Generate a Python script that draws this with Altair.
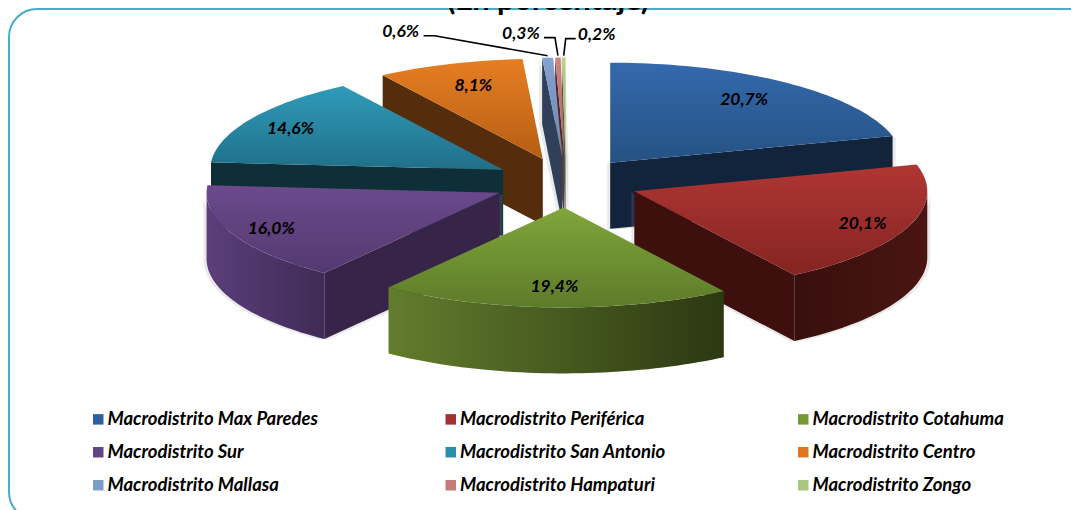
import math
import altair as alt
import pandas as pd

names = ["Macrodistrito Max Paredes", "Macrodistrito Periférica", "Macrodistrito Cotahuma",
         "Macrodistrito Sur", "Macrodistrito San Antonio", "Macrodistrito Centro",
         "Macrodistrito Mallasa", "Macrodistrito Hampaturi", "Macrodistrito Zongo"]
shares = [20.7, 20.1, 19.4, 16.0, 14.6, 8.1, 0.6, 0.3, 0.2]
labels = ["20,7%", "20,1%", "19,4%", "16,0%", "14,6%", "8,1%", "0,6%", "0,3%", "0,2%"]
top_hi = ["#3469ad", "#b03633", "#80a63b", "#6b4a8c", "#2f9bb9", "#e67e22", "#84a2d2", "#d0827f", "#b6d28a"]
top_lo = ["#265283", "#842422", "#5e7b2a", "#543971", "#206f89", "#b65e14", "#6f87ad", "#a86966", "#93aa70"]
arc_hi = ["#1a3358", "#4a1512", "#627d2d", "#5b3e7b", "#174955", "#6a3a12", "#3a4a66", "#5f3130", "#56643c"]
arc_lo = ["#11233c", "#380f0d", "#2c3812", "#3f2b55", "#0f3039", "#4a2509", "#2e3b52", "#4c2726", "#47532f"]
cut = ["#12233c", "#3d100e", "#2f3b14", "#372549", "#0f2f38", "#552d0d", "#31405a", "#4f2827", "#4a5632"]
legend_col = ["#2f5f9e", "#a33130", "#759a35", "#644585", "#2b8fac", "#dd7820", "#7f9cc9", "#c57b78", "#aac780"]
has_shadow = [True, True, False, True, False, False, True, True, True]
draw_order = [8, 7, 6, 0, 5, 4, 3, 1, 2]
# offset of the three outer labels from the rim of their slices
outer_dx = [-147, -37, 33]
outer_dy = [-26, -24, -23]
# small nudges of the labels that sit on the slices
inner_dx = [-8, 9, -2, -15, -11, 5]
inner_dy = [1, 4, 0, 3, 0, 3]

# pie geometry (chart pixels: the page margin is 8)
CX, CY = 558.0, 174.5
RX, RY = 293.0, 100.0
DEPTH = 66.0
EXPLODE = 73.0
total = sum(shares)


def pt(ax, ay, deg, f=1.0):
    r = math.radians(deg)
    return [ax + RX * f * math.sin(r), ay - RY * f * math.cos(r)]


def arc(ax, ay, a, b):
    n = max(2, int(abs(b - a) / 1.5) + 1)
    return [pt(ax, ay, a + (b - a) * i / n) for i in range(n + 1)]


def shape(ring, **props):
    return {"type": "Feature", "properties": props,
            "geometry": {"type": "Polygon", "coordinates": [ring + [ring[0]]]}}


def poly(ring, fill, **kw):
    return (alt.Chart(alt.Data(values=[shape(ring)]))
            .mark_geoshape(fill=fill, stroke=None, **kw)
            .project(type="identity", scale=1, translate=[0, 0]))


def grad(c1, c2, vertical=True):
    return alt.Gradient(gradient="linear",
                        stops=[alt.GradientStop(color=c1, offset=0), alt.GradientStop(color=c2, offset=1)],
                        x1=0, y1=0, x2=0 if vertical else 1, y2=1 if vertical else 0)


def extrude(pts):
    return pts + [[x, y + DEPTH] for x, y in reversed(pts)]


slices = []
c = 0.0
for s in shares:
    a, b = c / total * 360, (c + s) / total * 360
    m = math.radians((a + b) / 2)
    slices.append(dict(a=a, b=b, mid=(a + b) / 2,
                       ax=CX + EXPLODE * math.sin(m),
                       ay=CY - EXPLODE * RY / RX * math.cos(m)))
    c += s

layers = []

# frame
frame = pd.DataFrame({"k": [0]})
layers.append(alt.Chart(frame).mark_rect(fill="white", stroke="#4bacc6", strokeWidth=2, cornerRadius=28)
              .encode(x=alt.value(1), x2=alt.value(1092), y=alt.value(1), y2=alt.value(512)))

for i in draw_order:
    s = slices[i]
    ax, ay, a, b = s["ax"], s["ay"], s["a"], s["b"]
    walls = []
    if math.sin(math.radians(a)) < -0.01:
        walls.append((extrude([[ax, ay], pt(ax, ay, a)]), cut[i]))
    if math.sin(math.radians(b)) > 0.01:
        walls.append((extrude([[ax, ay], pt(ax, ay, b)]), cut[i]))
    lo, hi = max(a, 90), min(b, 270)
    if hi > lo:
        left_first = a + b > 360
        colours = (arc_hi[i], arc_lo[i]) if left_first else (arc_lo[i], arc_hi[i])
        walls.append((extrude(arc(ax, ay, lo, hi)), grad(colours[0], colours[1], False)))
    # soft shadow on both sides of the walls
    if has_shadow[i]:
        for ring, _ in walls:
            for dx in (-3, 3):
                layers.append(poly([[x + dx, y + 1] for x, y in ring], "#909090", opacity=0.2))
    for ring, fill in walls:
        layers.append(poly(ring, fill))
    top = [[ax, ay]] + arc(ax, ay, a, b)
    layers.append(poly(top, grad(top_hi[i], top_lo[i])))

# leader lines of the thin slices
lead_rows = []
outer_pos = {}
for k, i in enumerate([6, 7, 8]):
    s = slices[i]
    rim = pt(s["ax"], s["ay"], s["mid"])
    lx, ly = rim[0] + outer_dx[k], rim[1] + outer_dy[k]
    outer_pos[i] = (lx, ly)
    if k == 2:
        path = [[lx - 21, ly + 4], [rim[0] + 2, ly + 4], [rim[0], rim[1] - 2]]
    else:
        path = [[lx + 23, ly + 4], [lx + 34, ly + 4], [rim[0], rim[1] - 2]]
    lead_rows.append(path)

for path in lead_rows:
    layers.append(
        alt.Chart(alt.Data(values=[{"type": "Feature", "properties": {},
                                    "geometry": {"type": "LineString", "coordinates": path}}]))
        .mark_geoshape(filled=False, stroke="black", strokeWidth=1.6, fill=None)
        .project(type="identity", scale=1, translate=[0, 0]))

# value labels
rows = []
for i, s in enumerate(slices):
    if i in outer_pos:
        x, y = outer_pos[i]
    else:
        x, y = pt(s["ax"], s["ay"], s["mid"], 0.8)
        x, y = x + inner_dx[i], y + inner_dy[i]
    rows.append({"label": labels[i], "px": x, "py": y})
label_font = "Lato"
layers.append(alt.Chart(pd.DataFrame(rows)).mark_text(font=label_font, fontSize=17.5, fontStyle="italic",
                                                      fontWeight="bold", color="black")
              .encode(x=alt.X("px:Q", scale=None), y=alt.Y("py:Q", scale=None), text="label:N"))

# title, cut by the top of the picture
layers.append(alt.Chart(pd.DataFrame({"t": ["(En porcentaje)"]}))
              .mark_text(font=label_font, fontSize=30.5, fontWeight="bold", color="black", baseline="alphabetic")
              .encode(x=alt.value(540), y=alt.value(2), text="t:N"))

# legend
leg = pd.DataFrame({"name": names})
layers.append(alt.Chart(leg).mark_square(size=1, opacity=1)
              .encode(x=alt.value(-40), y=alt.value(-40),
                      color=alt.Color("name:N", sort=names,
                                      scale=alt.Scale(domain=names, range=legend_col),
                                      legend=alt.Legend(title=None, orient="none", legendX=81, legendY=402,
                                                        columns=3, direction="horizontal", symbolType="square",
                                                        symbolSize=110, symbolStrokeWidth=0, labelFont=label_font,
                                                        labelFontSize=18.5, labelFontStyle="italic",
                                                        labelFontWeight="bold", labelColor="black", labelLimit=400,
                                                        labelOffset=0, columnPadding=123.5, rowPadding=14,
                                                        gridAlign="all", padding=0))))

chart = (alt.layer(*layers)
         .properties(width=1063, height=502, padding=0, autosize=alt.AutoSizeParams(type="none"), background="white")
         .configure_view(stroke=None))
chart.save("out.html", embed_options={"renderer": "svg", "actions": False})
